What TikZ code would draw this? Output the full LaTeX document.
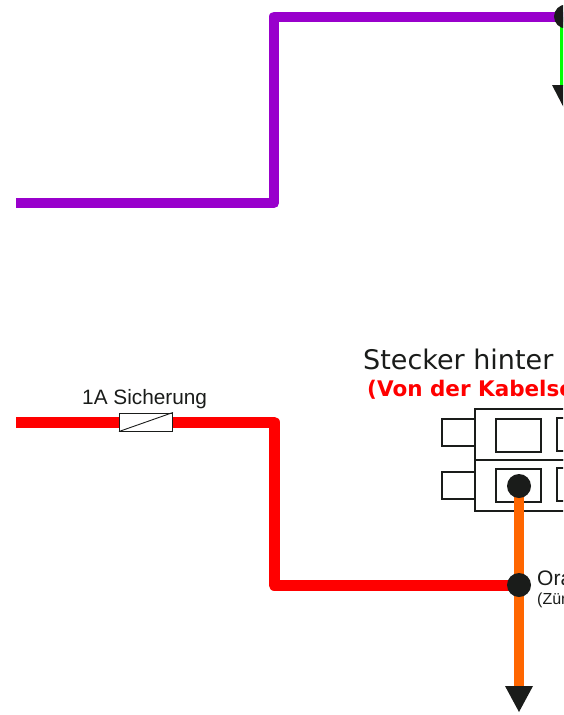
\documentclass[tikz,border=0pt]{standalone}
\usepackage{fontspec}
\setmainfont{Liberation Sans}
\newfontfamily\verd{DejaVu Sans}
\definecolor{ink}{HTML}{1A1C1A}
\definecolor{wpurple}{HTML}{9900CC}
\definecolor{worange}{HTML}{FF6600}
\definecolor{wgreen}{HTML}{00FF00}
\definecolor{wred}{HTML}{FF0000}
\begin{document}
\begin{tikzpicture}[x=1pt,y=-1pt,
  wire/.style={line width=#1,line join=round},
  wire/.default=8pt,
  housing/.style={draw=ink,line width=1.3pt,fill=white},
  dot/.style={circle,fill=ink,minimum size=24pt,inner sep=0pt},
  tip/.style={fill=ink,draw=none},
  lbl/.style={inner sep=0pt,anchor=base west,text=ink}]
\useasboundingbox (0,0) rectangle (563,715);
\clip (0,0) rectangle (563,715);
% purple + green
\coordinate (ps) at (16,203);
\coordinate (pa) at (274,203);
\coordinate (pb) at (274,16.5);
\coordinate (gs) at (566,16.5);
\coordinate (ge) at (566,86);
\draw[wire=12pt,wgreen] (gs) -- (ge);
\draw[wire=10pt,wpurple] (ps) -- (pa) -- (pb) -- (gs);
\node[dot] (gd) at (gs) {};
\fill[tip] (552,85) -- (580,85) -- (566,112) -- cycle;
% connector
\draw[housing] (475,409) rectangle (580,460);
\draw[housing] (475,460) rectangle (580,511);
\draw[housing] (442,419) rectangle (475,446);
\draw[housing] (442,472) rectangle (475,499);
\draw[housing] (496,419) rectangle (541,452);
\draw[housing] (496,469) rectangle (541,502);
\draw[housing] (557,418) rectangle (600,451);
\draw[housing] (557,468) rectangle (600,501);
% red
\coordinate (rs) at (16,422);
\coordinate (ra) at (274,422);
\coordinate (rb) at (274,585);
\coordinate (oj) at (519,585);
\coordinate (ot) at (519,486);
\coordinate (oe) at (519,687);
\draw[wire=11pt,wred] (rs) -- (ra) -- (rb) -- (oj);
\draw[wire=10.5pt,worange] (ot) -- (oe);
\node[dot] (d1) at (ot) {};
\node[dot] (d2) at (oj) {};
\fill[tip] (505,686) -- (533,686) -- (519,712) -- cycle;
% fuse
\node[draw=ink,line width=1pt,fill=white,minimum width=53pt,minimum height=18pt,inner sep=0pt] (fuse) at (146,422) {};
\draw[ink,line width=.9pt] (fuse.south west) -- (fuse.north east);
% labels
\node[lbl,font=\fontsize{20.8}{24}\selectfont] (fl) at (82,404.5) {1A Sicherung};
\node[lbl,font=\verd\fontsize{27}{30}\selectfont] (t1) at (363,369) {Stecker hinter};
\node[lbl,text=wred,font=\verd\bfseries\fontsize{21.5}{25}\selectfont] (t2) at (367,396) {(Von der Kabelse};
\node[lbl,font=\fontsize{21}{24}\selectfont] (o1) at (537,585) {Ora};
\node[lbl,font=\fontsize{16}{19}\selectfont] (o2) at (537,604) {(Zün};
\end{tikzpicture}
\end{document}
